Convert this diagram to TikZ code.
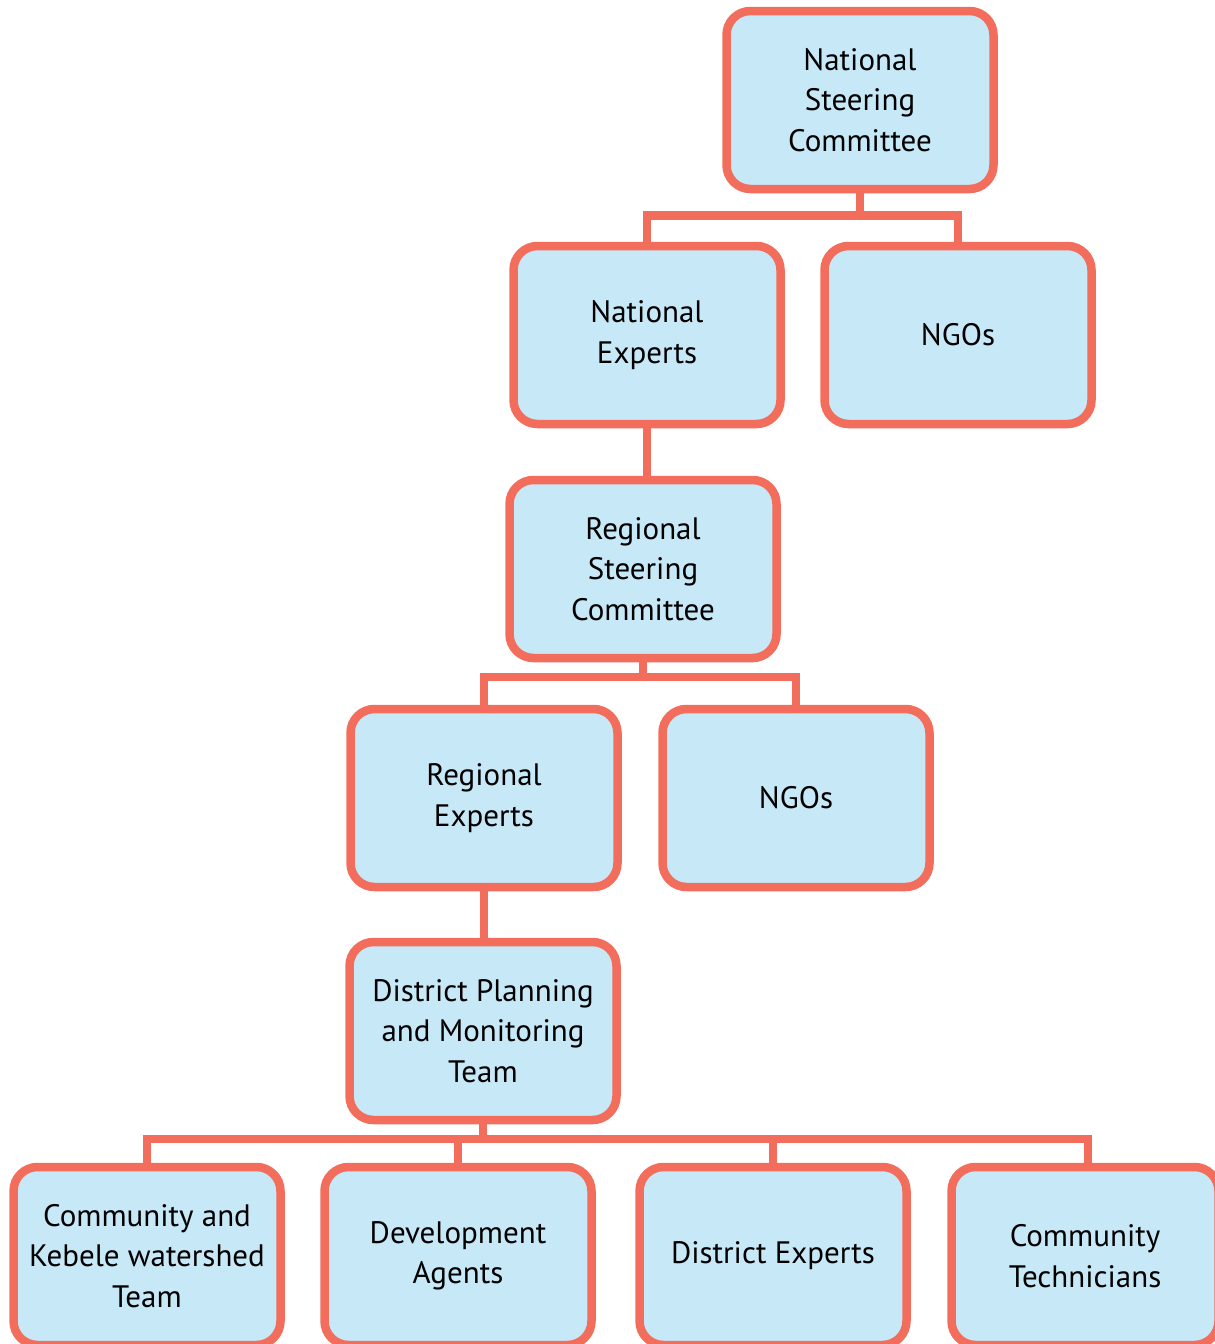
\documentclass[tikz,border=0pt]{standalone}
\usepackage{fontspec}
\setmainfont{PT Sans}
\definecolor{coral}{HTML}{F26D5B}
\definecolor{pale}{HTML}{C7E8F7}
\begin{document}
\begin{tikzpicture}[x=1pt,y=-1pt,
  box/.style={draw=coral,fill=pale,line width=8.5pt,rounded corners=24pt,
    minimum width=267pt,minimum height=178pt,inner sep=0pt,align=center,
    font=\fontsize{31}{40.5}\selectfont,text=black},
  link/.style={draw=coral,line width=8.5pt}]
\useasboundingbox (0,0) rectangle (1215,1344);
\coordinate (j1) at (860,215.5);
\coordinate (j2) at (643,677);
\coordinate (j3) at (483,1139);
\node[box] (nsc) at (860,100) {National\\Steering\\Committee};
\node[box] (ne) at (647,335) {National\\Experts};
\node[box] (ngo1) at (958,335) {NGOs};
\node[box] (rsc) at (643,569) {Regional\\Steering\\Committee};
\node[box] (re) at (484,798) {Regional\\Experts};
\node[box] (ngo2) at (796,798) {NGOs};
\node[box] (dpmt) at (483,1031) {District Planning\\and Monitoring\\Team};
\node[box] (ckw) at (147,1256) {Community and\\Kebele watershed\\Team};
\node[box] (da) at (458,1256) {Development\\Agents};
\node[box] (de) at (773,1256) {District Experts};
\node[box] (ct) at (1085,1256) {Community\\Technicians};
\draw[link] (nsc.south) -- (j1);
\draw[link] (ne.north) |- (j1) -| (ngo1.north);
\draw[link] (ne.south) -- (rsc.north -| ne.south);
\draw[link] (rsc.south) -- (j2);
\draw[link] (re.north) |- (j2) -| (ngo2.north);
\draw[link] (re.south) -- (dpmt.north -| re.south);
\draw[link] (dpmt.south) -- (j3);
\draw[link] (ckw.north) |- (j3);
\draw[link] (j3) -| ([xshift=3pt]ct.north);
\draw[link] (da.north) -- (da.north |- j3);
\draw[link] (de.north) -- (de.north |- j3);
\end{tikzpicture}
\end{document}
